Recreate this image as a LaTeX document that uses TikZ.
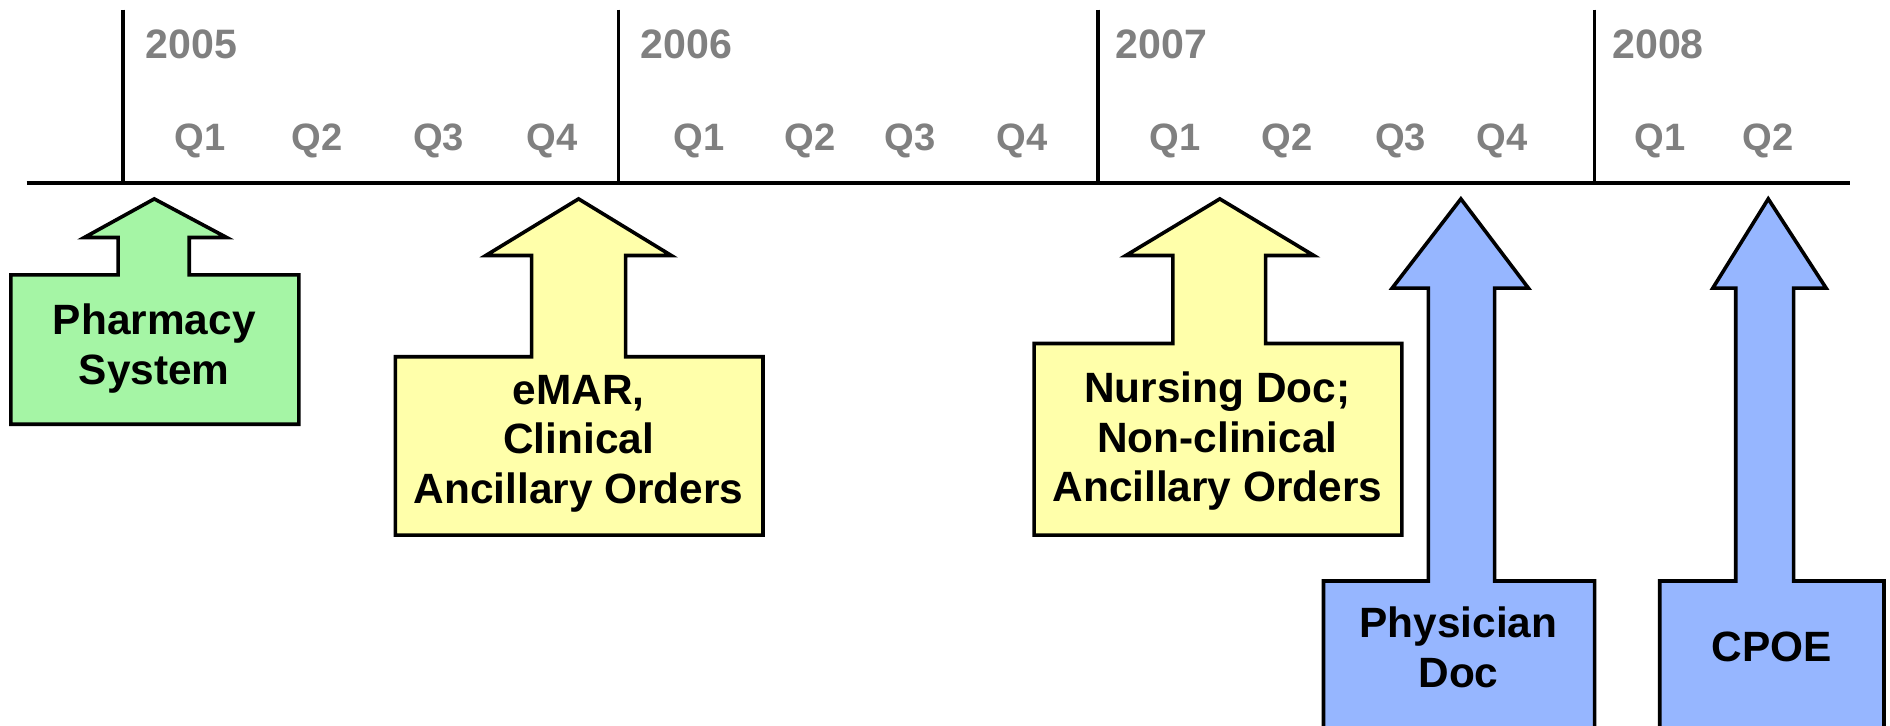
\documentclass[tikz,border=0pt]{standalone}
\usepackage{fontspec}
\setmainfont{Liberation Sans}
\definecolor{timegray}{RGB}{128,128,128}
\definecolor{pharmgreen}{RGB}{165,245,165}
\definecolor{padyellow}{RGB}{255,255,170}
\definecolor{docblue}{RGB}{150,182,255}
\tikzset{
  yearlabel/.style={anchor=west, inner sep=0pt, text=timegray, font=\fontsize{9.7}{11}\selectfont\bfseries},
  quarterlabel/.style={inner sep=0pt, text=timegray, font=\fontsize{9}{11}\selectfont\bfseries},
  phasebox/.style={draw=black, line width=0.85pt, line join=miter},
  phaselabel/.style={align=center, inner sep=0pt, font=\fontsize{10}{11.7}\selectfont\bfseries}
}
\begin{document}
\begin{tikzpicture}[x=0.01cm, y=-0.01cm]
\useasboundingbox (0,0) rectangle (1568,602);
% Timeline and year dividers
\coordinate (axis-start) at (22,152);
\coordinate (axis-end) at (1535,152);
\draw[line width=0.85pt] (axis-start) -- (axis-end);
\foreach \x in {102,513,911,1323}
  \draw[line width=0.85pt] (\x,8) -- (\x,152);
\foreach \yr/\x in {2005/120,2006/531,2007/925,2008/1337}
  \node[yearlabel] (year-\yr) at (\x,37) {\yr};
\foreach \x/\q [count=\i] in {166/1,263/2,364/3,458/4,580/1,672/2,755/3,848/4,%
  975/1,1068/2,1162/3,1246/4,1377/1,1467/2}
  \node[quarterlabel] (quarter-\i) at (\x,117) {Q\q};
% Pharmacy system
\filldraw[phasebox, fill=pharmgreen] (128,165) -- (188,197) -- (157,197) -- (157,228)%
  -- (248,228) -- (248,352) -- (9,352) -- (9,228) -- (98,228) -- (98,197) -- (70,197) -- cycle;
\node[phaselabel] (pharmacy) at (128,289) {Pharmacy\\System};
% eMAR and clinical orders
\filldraw[phasebox, fill=padyellow] (480,165) -- (557,212) -- (519,212) -- (519,296)%
  -- (633,296) -- (633,444) -- (328,444) -- (328,296) -- (441,296) -- (441,212) -- (403,212) -- cycle;
\node[phaselabel] (emar) at (480,368) {eMAR,\\Clinical\\Ancillary Orders};
% Nursing doc and non-clinical orders
\filldraw[phasebox, fill=padyellow] (1012,165) -- (1090,212) -- (1050,212) -- (1050,285)%
  -- (1163,285) -- (1163,444) -- (858,444) -- (858,285) -- (973,285) -- (973,212) -- (934,212) -- cycle;
\node[phaselabel] (nursing) at (1010,366) {Nursing Doc;\\Non-clinical\\Ancillary Orders};
% Physician doc
\filldraw[phasebox, fill=docblue] (1212,165) -- (1268,239) -- (1240,239) -- (1240,482)%
  -- (1323,482) -- (1323,620) -- (1098,620) -- (1098,482) -- (1185,482) -- (1185,239) -- (1155,239) -- cycle;
\node[phaselabel] (physician) at (1210,537) {Physician\\Doc};
% CPOE
\filldraw[phasebox, fill=docblue] (1467,165) -- (1515,239) -- (1488,239) -- (1488,482)%
  -- (1563,482) -- (1563,620) -- (1377,620) -- (1377,482) -- (1440,482) -- (1440,239) -- (1421,239) -- cycle;
\node[phaselabel] (cpoe) at (1470,537) {CPOE};
\end{tikzpicture}
\end{document}
